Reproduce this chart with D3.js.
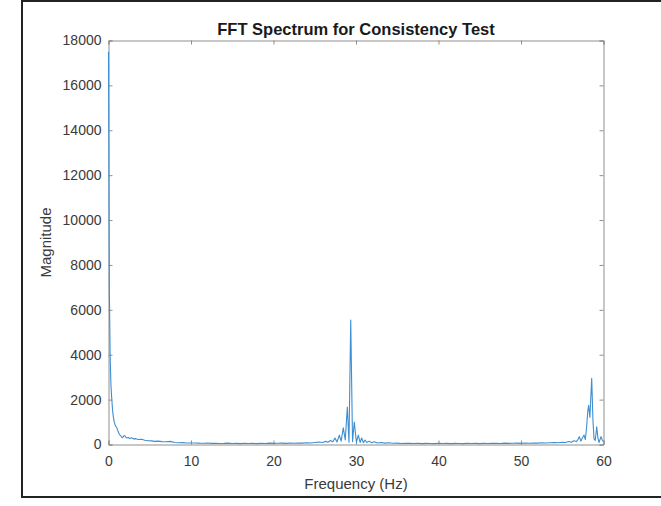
<!DOCTYPE html>
<html>
<head>
<meta charset="utf-8">
<script src="https://cdn.jsdelivr.net/npm/d3@7"></script>
<style>
  body { margin: 0; background: #fff; }
  svg { display: block; font-family: "Liberation Sans", Arial, Helvetica, sans-serif; }
</style>
</head>
<body>
<svg id="chart"></svg>
<script>
// frequency bins (Hz), denser where the curve moves
const freq = [
  0, 0.1, 0.2, 0.3, 0.4, 0.5, 0.6, 0.7, 0.8, 0.9, 1.0, 1.1, 1.2, 1.3, 1.4, 1.5, 1.6, 1.7, 1.8, 1.9,
  2.0, 2.1, 2.2, 2.4, 2.6, 2.8, 3.0, 3.3, 3.6, 4.0, 4.4, 4.8, 5.2, 5.6, 6.0, 6.5, 7.0, 7.5, 8.0, 8.5,
  9.0, 9.5, 10, 10.5, 11, 11.5, 12, 12.5, 13, 13.5, 14, 14.5, 15, 15.5, 16, 16.5, 17, 17.5, 18, 18.5,
  19, 19.5, 20, 20.5, 21, 21.5, 22, 22.5, 23, 23.5, 24, 24.5, 25, 25.5, 26, 26.3, 26.6, 26.9, 27.2, 27.45,
  27.7, 27.98, 28.2, 28.46, 28.7, 28.95, 29.15, 29.36, 29.58, 29.79, 30.05, 30.28, 30.5, 30.69, 30.9, 31.09, 31.3, 31.6, 31.9, 32.2,
  32.6, 33, 33.5, 34, 34.5, 35, 35.5, 36, 36.5, 37, 37.5, 38, 38.5, 39, 39.5, 40, 40.5, 41, 41.5, 42,
  42.5, 43, 43.5, 44, 44.5, 45, 45.5, 46, 46.5, 47, 47.5, 48, 48.5, 49, 49.5, 50, 50.5, 51, 51.5, 52,
  52.5, 53, 53.5, 54, 54.5, 55, 55.4, 55.8, 56.1, 56.4, 56.7, 56.9, 57.07, 57.25, 57.45, 57.64, 57.8, 57.96, 58.1, 58.2,
  58.35, 58.57, 58.72, 58.85, 59.0, 59.18, 59.32, 59.45, 59.7, 59.85, 60
];

// magnitude at each bin
const magnitude = [
  17500, 7000, 3900, 2600, 2000, 1500, 1200, 1000, 880, 800, 760, 640, 560, 470, 420, 380, 330, 300, 350, 400,
  380, 330, 290, 310, 270, 300, 250, 260, 220, 230, 190, 170, 160, 140, 150, 130, 120, 140, 90, 80,
  85, 70, 65, 70, 60, 55, 65, 50, 55, 45, 50, 60, 45, 50, 40, 55, 45, 50, 40, 55,
  45, 60, 50, 55, 60, 50, 65, 55, 70, 60, 80, 70, 90, 110, 90, 140, 100, 180, 120, 290,
  110, 420, 150, 740, 200, 1670, 100, 5550, 120, 1000, 100, 420, 90, 290, 80, 200, 90, 150, 80, 120,
  70, 90, 60, 75, 55, 60, 45, 55, 50, 45, 55, 40, 50, 45, 40, 55, 45, 50, 40, 50,
  45, 40, 55, 45, 50, 40, 55, 45, 50, 55, 45, 60, 50, 55, 60, 50, 65, 55, 70, 60,
  75, 65, 80, 90, 80, 100, 90, 130, 100, 170, 130, 220, 350, 150, 300, 420, 220, 800, 1500, 1750,
  1200, 2950, 1100, 250, 180, 790, 300, 90, 350, 200, 120
];

const xTicks = [0, 10, 20, 30, 40, 50, 60];
const yTicks = [0, 2000, 4000, 6000, 8000, 10000, 12000, 14000, 16000, 18000];

const width = 661, height = 506;
const plot = { left: 108.5, right: 603.5, top: 40.5, bottom: 444.5 };
const axisGray = '#8f8f8f';
const textGray = '#3a3a3a';

const svg = d3.select('#chart')
  .attr('width', width)
  .attr('height', height);

// outer figure frame
svg.append('path')
  .attr('d', `M${width + 5},1 H22 V497 H${width + 5}`)
  .attr('fill', 'none')
  .attr('stroke', '#222')
  .attr('stroke-width', 2);

const x = d3.scaleLinear().domain([0, 60]).range([plot.left, plot.right]);
const y = d3.scaleLinear().domain([0, 18000]).range([plot.bottom, plot.top]);

const tickLen = 4;

// axes with inward ticks, matlab style box
const bottomAxis = svg.append('g')
  .attr('transform', `translate(0,${plot.bottom})`)
  .call(d3.axisBottom(x).tickValues(xTicks).tickSize(-tickLen).tickPadding(12).tickFormat(d3.format('d')));
const topAxis = svg.append('g')
  .attr('transform', `translate(0,${plot.top})`)
  .call(d3.axisTop(x).tickValues(xTicks).tickSize(-tickLen).tickFormat(''));
const leftAxis = svg.append('g')
  .attr('transform', `translate(${plot.left},0)`)
  .call(d3.axisLeft(y).tickValues(yTicks).tickSize(-tickLen).tickPadding(7).tickFormat(d3.format('d')));
const rightAxis = svg.append('g')
  .attr('transform', `translate(${plot.right},0)`)
  .call(d3.axisRight(y).tickValues(yTicks).tickSize(-tickLen).tickFormat(''));

[bottomAxis, topAxis, leftAxis, rightAxis].forEach(g => {
  g.select('.domain').attr('stroke', axisGray).attr('stroke-width', 1);
  g.selectAll('.tick line').attr('stroke', axisGray);
  g.selectAll('.tick text')
    .attr('fill', textGray)
    .style('font-size', '14px')
    .style('font-family', '"Liberation Sans", Arial, sans-serif');
});

// spectrum line
const line = d3.line()
  .x((d, i) => x(freq[i]))
  .y(d => y(d));

svg.append('path')
  .datum(magnitude)
  .attr('d', line)
  .attr('fill', 'none')
  .attr('stroke', '#3d8fd1')
  .attr('stroke-width', 1.1)
  .attr('stroke-linejoin', 'round');

// labels
svg.append('text')
  .attr('x', (plot.left + plot.right) / 2)
  .attr('y', 35)
  .attr('text-anchor', 'middle')
  .style('font-size', '16.5px')
  .style('font-weight', 'bold')
  .attr('fill', '#1a1a1a')
  .text('FFT Spectrum for Consistency Test');

svg.append('text')
  .attr('x', (plot.left + plot.right) / 2)
  .attr('y', 489)
  .attr('text-anchor', 'middle')
  .style('font-size', '15px')
  .attr('fill', textGray)
  .text('Frequency (Hz)');

svg.append('text')
  .attr('transform', `translate(51,${(plot.top + plot.bottom) / 2}) rotate(-90)`)
  .attr('text-anchor', 'middle')
  .style('font-size', '15px')
  .attr('fill', textGray)
  .text('Magnitude');
</script>
</body>
</html>
